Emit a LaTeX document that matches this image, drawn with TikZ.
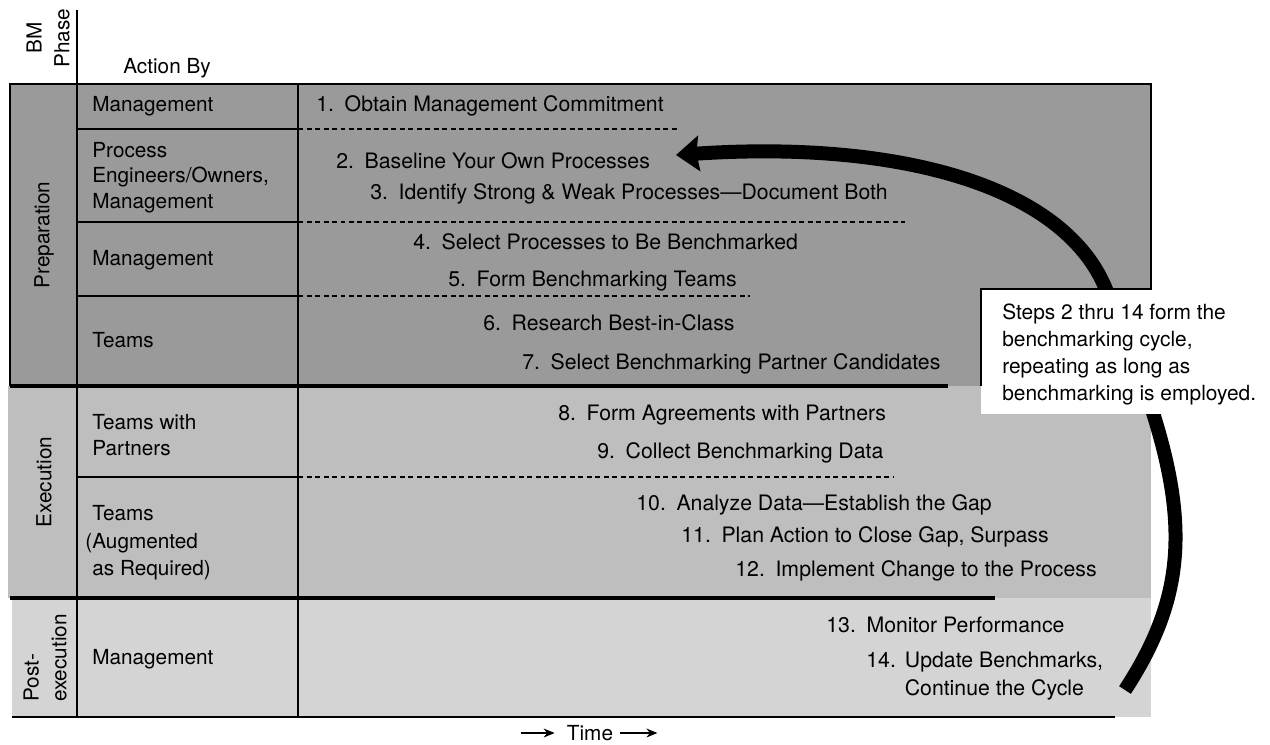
\documentclass[tikz,border=0pt]{standalone}
\usepackage{fontspec}
\setmainfont{TeX Gyre Heros}
\usetikzlibrary{
  positioning,
  arrows.meta,
  calc
}
\definecolor{prepGray}{HTML}{9A9A9A}
\definecolor{execGray}{HTML}{BEBEBE}
\definecolor{postGray}{HTML}{D4D4D4}
\newcommand{\bmfont}{\fontsize{11.8pt}{14.5pt}\selectfont}
\newcommand{\bmfontwide}{\fontsize{11.8pt}{15.8pt}\selectfont}
\newcommand{\bmstepfont}{\fontsize{12.1pt}{14.8pt}\selectfont}
\tikzset{
  stepText/.style  = {inner sep=0pt, anchor=base west, font=\bmstepfont},
  actorText/.style = {inner sep=0pt, align=left, font=\bmfont},
  phaseText/.style = {inner sep=0pt, rotate=90, font=\bmfontwide},
  colLine/.style   = {line width=0.8pt, draw=black},
  frameLine/.style = {line width=0.9pt, draw=black},
  rowRule/.style   = {line width=0.7pt},
  stepRule/.style  = {line width=0.7pt, dash pattern=on 0.1cm off 0.07cm},
  phaseRule/.style = {line width=1.8pt},
  endRule/.style   = {line width=1pt},
  cycleArrow/.style = {line width=0.28cm,
                    -{Stealth[length=0.46cm, width=0.7cm, inset=0.05cm]}},
  noteBox/.style   = {fill=white, inner sep=0pt,
                    minimum width=5.62cm, minimum height=2.5cm},
  noteText/.style  = {inner sep=0pt, align=left,
                    font=\fontsize{11.9pt}{15.2pt}\selectfont},
  timeArrow/.style = {line width=0.6pt, -{Stealth[length=2.2mm, width=1.8mm]}}
}

\begin{document}
\begin{tikzpicture}[x=0.02cm, y=-0.02cm]
\useasboundingbox (0,0) rectangle (1270,744);

% phase bands
\fill[prepGray] (10,84) rectangle (1151,386);
\fill[execGray] (8,386) rectangle (1151,598);
\fill[postGray] (12,598) rectangle (1151,717);

% columns
\draw[colLine] (77,10) -- (77,717);
\draw[colLine] (298,84) -- (298,717);

% rows within the phases
\draw[rowRule] (77,129) -- (298,129);
\draw[stepRule] (298,129) -- (680,129);
\draw[rowRule] (77,222) -- (298,222);
\draw[stepRule] (298,222) -- (905,222);
\draw[rowRule] (77,296) -- (298,296);
\draw[stepRule] (298,296) -- (750,296);
\draw[rowRule] (77,477) -- (298,477);
\draw[stepRule] (298,477) -- (893,477);

% phase boundaries
\draw[phaseRule] (10,386) -- (948,386);
\draw[phaseRule] (10,598) -- (995,598);
\draw[endRule] (12,717) -- (1115,717);

% header
\node[phaseText, align=center] (phHead) at (48,38) {BM\\Phase};
\node[actorText, anchor=base west] (actHead) at (123,73) {Action By};

% phases
\node[phaseText] (phPrep) at (44,235) {Preparation};
\node[phaseText] (phExec) at (44,482) {Execution};
\node[phaseText, align=left] (phPost) at (45,658) {Post-\\execution};

% action by
\node[actorText, anchor=base west] (actMgmtA) at (92,111) {Management};
\node[actorText, anchor=north west] (actProc) at (92,142) {Process\\Engineers/Owners,\\Management};
\node[actorText, anchor=base west] (actMgmtB) at (92,265) {Management};
\node[actorText, anchor=base west] (actTeams) at (92,347) {Teams};
\node[actorText, anchor=north west, font=\fontsize{11.8pt}{15pt}\selectfont]
  (actPartners) at (92,414) {Teams with\\Partners};
\node[actorText, anchor=north west, font=\bmfontwide]
  (actAug) at (92,505) {Teams\\\llap{(}Augmented\\as Required)};
\node[actorText, anchor=base west] (actMgmtC) at (92,664) {Management};

% steps
\node[stepText] (s1) at (316,111) {1.\enspace Obtain Management Commitment};
\node[stepText] (s2) at (336,168) {2.\enspace Baseline Your Own Processes};
\node[stepText] (s3) at (370,199) {3.\enspace Identify Strong \& Weak Processes---Document Both};
\node[stepText] (s4) at (413,249) {4.\enspace Select Processes to Be Benchmarked};
\node[stepText] (s5) at (448,286) {5.\enspace Form Benchmarking Teams};
\node[stepText] (s6) at (483,330) {6.\enspace Research Best-in-Class};
\node[stepText] (s7) at (522,369) {7.\enspace Select Benchmarking Partner Candidates};
\node[stepText] (s8) at (558,420) {8.\enspace Form Agreements with Partners};
\node[stepText] (s9) at (597,458) {9.\enspace Collect Benchmarking Data};
\node[stepText] (s10) at (636,510) {10.\enspace Analyze Data---Establish the Gap};
\node[stepText] (s11) at (681,542) {11.\enspace Plan Action to Close Gap, Surpass};
\node[stepText] (s12) at (735,576) {12.\enspace Implement Change to the Process};
\node[stepText] (s13) at (826,632) {13.\enspace Monitor Performance};
\node[stepText] (s14) at (866,667)
  {14.\hspace{0.42em}\begin{tabular}[t]{@{}l@{}}Update Benchmarks,\\[1.2pt]Continue the Cycle\end{tabular}};

% benchmarking cycle
\coordinate (cycleStart) at (1125,690);
\coordinate (cycleMid) at (1105,287);
\coordinate (cycleTip) at (676,155);
\draw[cycleArrow] (cycleStart) .. controls (1200,575) and (1190,486) .. (cycleMid)
  .. controls (1062,186) and (900,140) .. (cycleTip);

% note on the cycle
\node[noteBox, anchor=north west] (note) at (981,289) {};
\node[noteText, anchor=north west] (noteTxt) at (1002,304)
  {Steps 2 thru 14 form the\\benchmarking cycle,\\repeating as long as\\benchmarking is employed.};
\draw[frameLine] (10,386) -- (10,84) -- (1151,84) -- (1151,289)
  -- (note.north west) -- (981,386);

% time axis
\node[actorText] (time) at (590,733) {Time};
\draw[timeArrow] ($(time.west)+(-46,0)$) -- ($(time.west)+(-12,0)$);
\draw[timeArrow] ($(time.east)+(7,0)$) -- ($(time.east)+(44,0)$);
\end{tikzpicture}
\end{document}
